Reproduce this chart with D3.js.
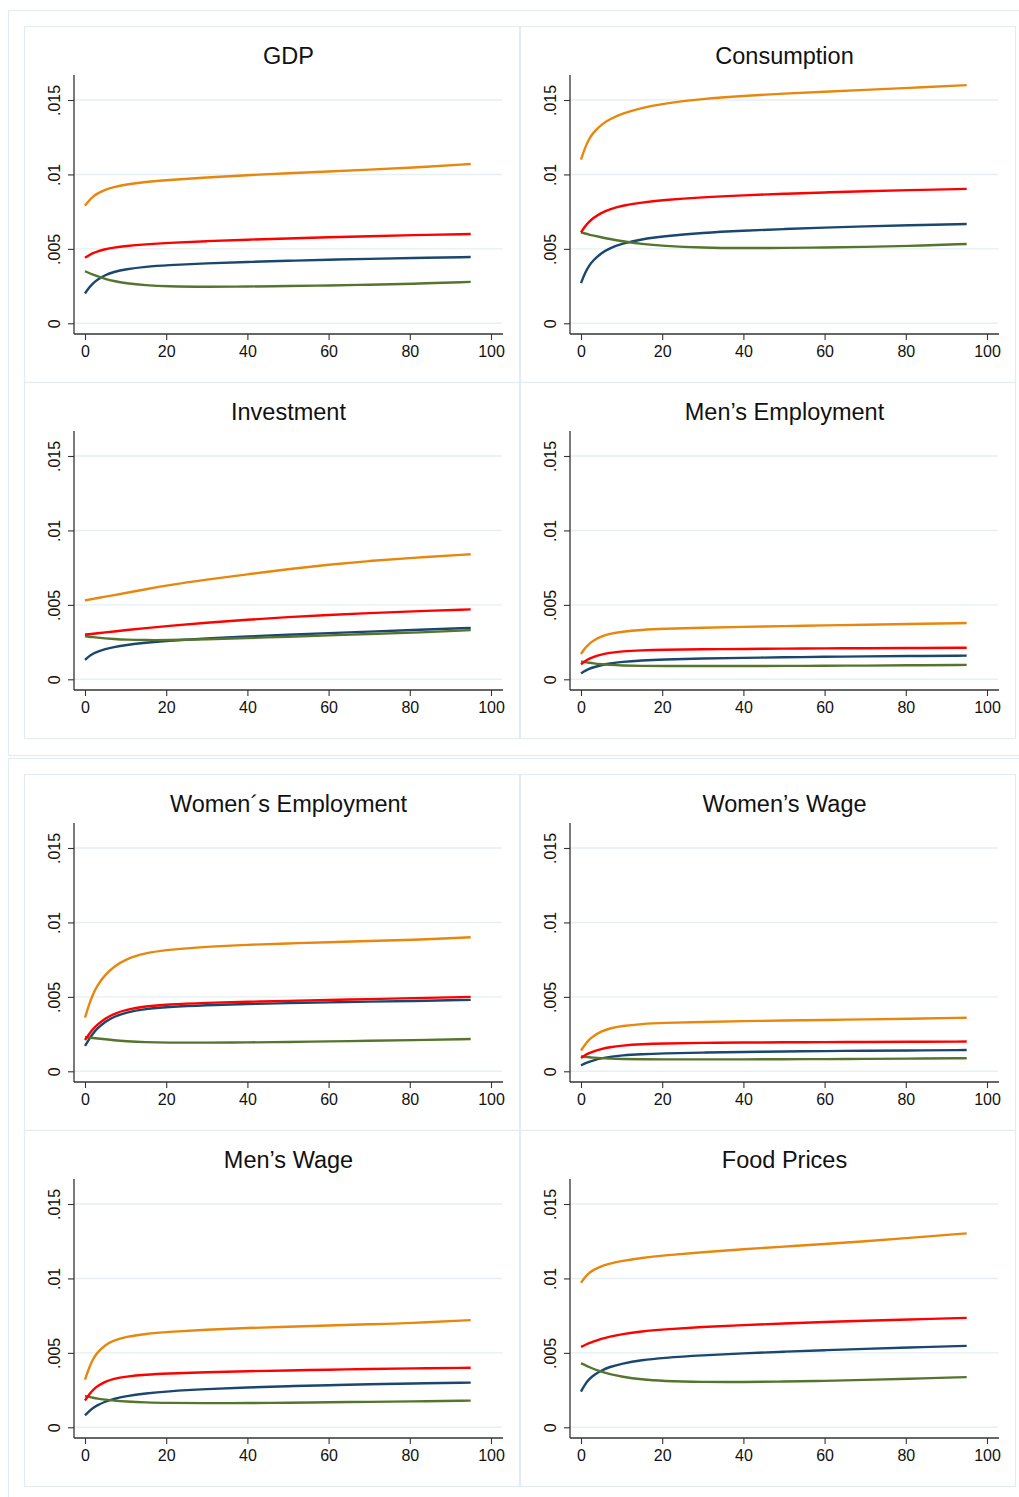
<!DOCTYPE html>
<html>
<head>
<meta charset="utf-8">
<script src="https://cdn.jsdelivr.net/npm/d3@7"></script>
<style>
  html, body { margin: 0; padding: 0; background: #ffffff; }
  svg { display: block; font-family: "Liberation Sans", Arial, Helvetica, sans-serif; }
</style>
</head>
<body>
<svg id="chart" width="1019" height="1497"></svg>
<script>
// Panel titles, in reading order (two groups of 2x2)
const panelTitles = ["GDP", "Consumption", "Investment", "Men’s Employment",
                     "Women´s Employment", "Women’s Wage", "Men’s Wage", "Food Prices"];

// Horizon (periods) at which each response is sampled
const periods = [0, 1, 2, 3, 5, 7, 10, 15, 20, 30, 40, 50, 60, 70, 80, 95];

// Axis ticks
const xTicks = [0, 20, 40, 60, 80, 100];
const yTicks = [0, 0.005, 0.01, 0.015];
const yTickLabels = ["0", ".005", ".01", ".015"];

// Responses, one row per panel (same order as panelTitles)
const orangeSeries = [
  [.0079,.00825,.00852,.00872,.00898,.00915,.00932,.0095,.00962,.0098,.00995,.01008,.0102,.01032,.01045,.0107],
  [.011,.0118,.0124,.0128,.01335,.0137,.01408,.01448,.01475,.01508,.01528,.01543,.01556,.01568,.0158,.016],
  [.0053,.00535,.0054,.00545,.00555,.00565,.0058,.00605,.0063,.0067,.00705,.0074,.0077,.00795,.00815,.0084],
  [.0017,.0021,.00238,.0026,.00288,.00305,.0032,.00332,.00339,.00347,.00352,.00357,.00362,.00367,.00371,.00378],
  [.0036,.0045,.0052,.00575,.0065,.007,.00755,.00795,.00815,.00837,.0085,.00859,.00867,.00875,.00882,.009],
  [.0014,.0018,.00212,.00236,.00268,.00288,.00305,.00318,.00325,.00332,.00337,.00341,.00345,.00349,.00353,.0036],
  [.0032,.004,.0046,.00502,.00553,.00582,.00608,.00628,.0064,.00656,.00667,.00676,.00684,.00692,.00699,.0072],
  [.0097,.0101,.01037,.01057,.01082,.01099,.01117,.01138,.01154,.01177,.01196,.01214,.01231,.0125,.0127,.01303]
];
const redSeries = [
  [.0044,.00458,.00472,.00483,.00498,.00508,.00519,.00531,.0054,.00552,.00562,.0057,.00578,.00585,.00592,.006],
  [.0061,.00652,.00683,.00707,.00742,.00766,.0079,.00812,.00827,.00847,.0086,.0087,.00879,.00887,.00894,.00903],
  [.003,.00303,.00306,.00309,.00315,.00321,.0033,.00344,.00357,.0038,.004,.00418,.00432,.00445,.00456,.0047],
  [.001,.00122,.00138,.0015,.00167,.00178,.00188,.00195,.00199,.00202,.00204,.00206,.00208,.00209,.0021,.00212],
  [.0021,.0025,.00285,.00313,.00355,.00385,.00413,.00437,.00449,.0046,.00467,.00473,.00479,.00485,.00491,.005],
  [.0009,.00108,.00122,.00133,.0015,.00162,.00173,.00182,.00187,.00191,.00193,.00195,.00196,.00197,.00198,.002],
  [.0018,.0022,.00252,.00276,.00307,.00326,.00341,.00354,.00361,.0037,.00377,.00382,.00387,.00392,.00396,.004],
  [.0054,.00553,.00565,.00576,.00595,.00609,.00626,.00645,.00657,.00674,.00687,.00698,.00707,.00716,.00724,.00735]
];
const navySeries = [
  [.002,.0024,.0027,.00293,.00325,.00345,.00363,.0038,.0039,.00403,.00412,.0042,.00427,.00433,.00438,.00445],
  [.0027,.0034,.00388,.00423,.00472,.00503,.00535,.00565,.00584,.00608,.00622,.00633,.00643,.00651,.00658,.00667],
  [.0013,.00155,.00172,.00185,.00203,.00216,.0023,.00246,.00258,.00275,.00288,.003,.0031,.0032,.00331,.00345],
  [.0004,.00057,.0007,.0008,.00095,.00106,.00117,.00127,.00133,.0014,.00144,.00148,.00151,.00154,.00156,.00159],
  [.0017,.00215,.00255,.00287,.00333,.00365,.00395,.0042,.00432,.00445,.00452,.00458,.00463,.00468,.00472,.0048],
  [.0004,.00053,.00064,.00073,.00087,.00097,.00107,.00115,.0012,.00126,.0013,.00133,.00136,.00138,.0014,.00143],
  [.0008,.00108,.0013,.00148,.00173,.0019,.00209,.00228,.00241,.00257,.00268,.00276,.00283,.00289,.00294,.003],
  [.0024,.0029,.00323,.00348,.00382,.00405,.00428,.00452,.00466,.00484,.00497,.00508,.00518,.00527,.00535,.00547]
];
const greenSeries = [
  [.0035,.00338,.00326,.00316,.00298,.00284,.00269,.00255,.00248,.00245,.00247,.0025,.00254,.00259,.00265,.00278],
  [.0061,.00603,.00596,.0059,.00578,.00567,.00552,.00532,.0052,.00508,.00505,.00506,.00509,.00513,.00519,.00533],
  [.0029,.00286,.00283,.0028,.00275,.00271,.00266,.00263,.00263,.00268,.00277,.00286,.00295,.00304,.00312,.0033],
  [.0012,.00115,.00111,.00107,.00101,.00097,.00093,.0009,.00089,.00089,.00089,.0009,.00091,.00092,.00094,.00097],
  [.0023,.00227,.00224,.00221,.00215,.00209,.00202,.00195,.00192,.00192,.00194,.00197,.00201,.00205,.00209,.00217],
  [.001,.00097,.00094,.00092,.00088,.00085,.00083,.00081,.0008,.0008,.0008,.00081,.00082,.00083,.00085,.00088],
  [.0021,.00204,.00198,.00193,.00186,.00179,.00173,.00167,.00164,.00162,.00163,.00165,.00168,.00171,.00174,.00179],
  [.0043,.00418,.00405,.00393,.00373,.00357,.0034,.00321,.00311,.00304,.00304,.00307,.00312,.00318,.00326,.00337]
];

const seriesColors = { navy: "#1a476f", green: "#55752f", red: "#ff0000", orange: "#e8870e" };

// ---- layout ----
const svg = d3.select("#chart");
const frameColor = "#e3ecef";
const panelW = 496, panelH = 356;
const groupOrigins = [{ x: 24, y: 26 }, { x: 24, y: 774 }];

// Outer boxes around each group of four panels
[{ y: 10, h: 745 }, { y: 758, h: 760 }].forEach(b => {
  svg.append("rect").attr("x", 8.5).attr("y", b.y + 0.5)
    .attr("width", 1030).attr("height", b.h)
    .attr("fill", "none").attr("stroke", frameColor).attr("stroke-width", 1.2);
});

// Plot region within each panel
const plot = { left: 50, right: 479, top: 49, bottom: 308 };
const x = d3.scaleLinear().domain([0, 100]).range([61, 467]);
const y = d3.scaleLinear().domain([0, 0.015]).range([297.3, 74]);

const line = d3.line()
  .x(d => x(d[0]))
  .y(d => y(d[1]))
  .curve(d3.curveBasis);

panelTitles.forEach((title, i) => {
  const group = Math.floor(i / 4);
  const local = i % 4;
  const ox = groupOrigins[group].x + (local % 2) * panelW;
  const oy = groupOrigins[group].y + Math.floor(local / 2) * panelH;

  const g = svg.append("g").attr("transform", `translate(${ox},${oy})`);

  g.append("rect").attr("x", 0.5).attr("y", 0.5)
    .attr("width", panelW - 1).attr("height", panelH)
    .attr("fill", "#ffffff").attr("stroke", frameColor).attr("stroke-width", 1.2);

  // horizontal gridlines
  g.append("g").selectAll("line").data(yTicks).join("line")
    .attr("x1", plot.left).attr("x2", plot.right - 1)
    .attr("y1", d => y(d)).attr("y2", d => y(d))
    .attr("stroke", "#e6eff1").attr("stroke-width", 1.4);

  // title
  g.append("text")
    .attr("x", (plot.left + plot.right) / 2).attr("y", 38)
    .attr("text-anchor", "middle")
    .attr("font-size", 23.5).attr("fill", "#111")
    .text(title);

  // series
  const rows = [
    { key: "navy", vals: navySeries[i] },
    { key: "green", vals: greenSeries[i] },
    { key: "red", vals: redSeries[i] },
    { key: "orange", vals: orangeSeries[i] }
  ];
  rows.forEach(r => {
    g.append("path")
      .datum(periods.map((t, k) => [t, r.vals[k]]))
      .attr("d", line)
      .attr("fill", "none")
      .attr("stroke", seriesColors[r.key])
      .attr("stroke-width", 2.4)
      .attr("stroke-linecap", "butt");
  });

  // x axis
  const xAxis = g.append("g").attr("transform", `translate(0,${plot.bottom})`)
    .call(d3.axisBottom(x).tickValues(xTicks).tickSize(6).tickSizeOuter(0).tickFormat(d3.format("d")));
  xAxis.select(".domain").remove();
  xAxis.selectAll(".tick line").attr("stroke", "#333").attr("stroke-width", 1.1);
  xAxis.selectAll(".tick text")
    .attr("y", 23).attr("dy", 0)
    .attr("font-size", 16).attr("fill", "#111")
    .attr("font-family", "'Liberation Sans', Arial, sans-serif");
  g.append("line")
    .attr("x1", plot.left).attr("x2", plot.right)
    .attr("y1", plot.bottom).attr("y2", plot.bottom)
    .attr("stroke", "#333").attr("stroke-width", 1.3);

  // y axis with rotated labels
  const yAxis = g.append("g").attr("transform", `translate(${plot.left},0)`)
    .call(d3.axisLeft(y).tickValues(yTicks).tickSize(6).tickSizeOuter(0)
      .tickFormat((d, k) => yTickLabels[k]));
  yAxis.select(".domain").remove();
  yAxis.selectAll(".tick line").attr("stroke", "#333").attr("stroke-width", 1.1);
  yAxis.selectAll(".tick text")
    .attr("transform", "rotate(-90)")
    .attr("x", 0).attr("y", -14).attr("dy", 0)
    .attr("text-anchor", "middle")
    .attr("font-size", 16).attr("fill", "#111")
    .attr("font-family", "'Liberation Sans', Arial, sans-serif");
  g.append("line")
    .attr("x1", plot.left).attr("x2", plot.left)
    .attr("y1", plot.top).attr("y2", plot.bottom)
    .attr("stroke", "#333").attr("stroke-width", 1.3);
});
</script>
</body>
</html>
